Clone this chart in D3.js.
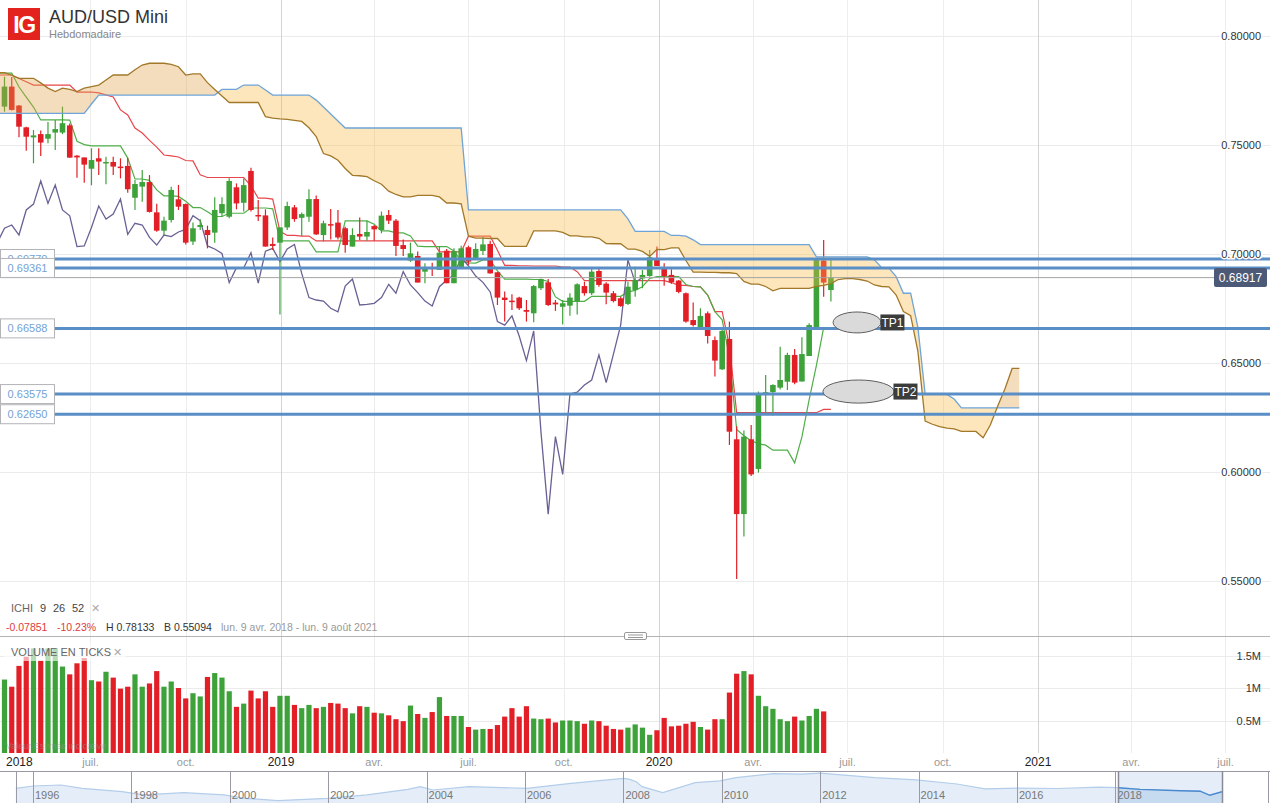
<!DOCTYPE html>
<html>
<head>
<meta charset="utf-8">
<title>AUD/USD Mini</title>
<script src="https://cdn.jsdelivr.net/npm/d3@7"></script>
<style>
  html, body { margin: 0; padding: 0; background: #fff; }
  svg { display: block; font-family: "Liberation Sans", Arial, sans-serif; }
</style>
</head>
<body>
<svg id="chart" width="1270" height="803"></svg>
<script>
// weekly candles, first week = lun. 9 avr. 2018
const firstWeek = Date.UTC(2018, 3, 9);

const opens = [
  .7676,.7768,.7681,.7581,.7535,.7550,.7529,.7557,.7557,.7590,
  .7451,.7443,.7391,.7439,.7416,.7422,.7401,.7404,.7258,.7309,
  .7330,.7191,.7107,.7156,.7251,.7229,.7057,.7124,.7110,.7098,
  .7187,.7171,.7306,.7235,.7381,.7179,.7177,.7046,.7052,.7122,
  .7214,.7166,.7171,.7252,.7087,.7137,.7144,.7118,.7034,.7092,
  .7080,.7128,.7110,.7179,.7153,.7041,.6970,.6991,.6919,.6940,
  .6927,.7015,.6866,.6934,.7031,.6980,.7014,.7046,.6916,.6800,
  .6786,.6800,.6743,.6728,.6843,.6870,.6777,.6758,.6763,.6784,
  .6853,.6820,.6922,.6864,.6820,.6797,.6771,.6835,.6888,.6899,
  .6980,.6934,.6904,.6878,.6820,.6697,.6664,.6728,.6605,.6471,
  .6610,.6150,.5807,.6150,.6014,.6358,.6366,.6387,.6414,.6537,
  .6415,.6532,.6659,.6970,.6835
];
const highs = [
  .7813,.7812,.7684,.7584,.7569,.7566,.7606,.7615,.7676,.7599,
  .7454,.7443,.7485,.7485,.7446,.7446,.7439,.7440,.7339,.7385,
  .7362,.7230,.7171,.7309,.7317,.7232,.7144,.7159,.7130,.7260,
  .7260,.7347,.7324,.7346,.7396,.7248,.7205,.7076,.7122,.7240,
  .7225,.7190,.7297,.7268,.7153,.7206,.7202,.7125,.7118,.7167,
  .7153,.7133,.7195,.7202,.7161,.7067,.7052,.7011,.6957,.6960,
  .7034,.7023,.7026,.7038,.7038,.7049,.7079,.7061,.6918,.6828,
  .6815,.6804,.6789,.6858,.6888,.6885,.6789,.6789,.6820,.6866,
  .6873,.6934,.6934,.6870,.6830,.6804,.6873,.6942,.6927,.7018,
  .7034,.6957,.6930,.6881,.6823,.6777,.6751,.6736,.6621,.6651,
  .6690,.6210,.6190,.6216,.6369,.6445,.6403,.6575,.6547,.6564,
  .6618,.6682,.6980,.7064,.6972
];
const lows = [
  .7653,.7658,.7535,.7474,.7416,.7450,.7508,.7477,.7550,.7442,
  .7350,.7327,.7315,.7362,.7320,.7362,.7347,.7281,.7202,.7240,
  .7190,.7102,.7087,.7144,.7202,.7044,.7041,.7110,.7026,.7052,
  .7171,.7164,.7205,.7195,.7195,.7151,.7034,.7018,.6723,.7110,
  .7148,.7083,.7148,.7087,.7057,.7067,.7067,.7006,.7034,.7064,
  .7061,.7061,.7095,.7138,.6991,.6991,.6964,.6869,.6866,.6899,
  .6927,.6866,.6866,.6934,.6950,.6972,.6995,.6911,.6766,.6690,
  .6743,.6743,.6690,.6687,.6835,.6761,.6739,.6677,.6717,.6723,
  .6809,.6812,.6850,.6769,.6778,.6758,.6766,.6804,.6843,.6896,
  .6945,.6854,.6863,.6820,.6685,.6667,.6664,.6590,.6438,.6468,
  .6124,.5509,.5704,.5982,.5997,.6270,.6259,.6379,.6376,.6402,
  .6415,.6532,.6652,.6804,.6782
];
const closes = [
  .7768,.7661,.7584,.7538,.7544,.7511,.7550,.7573,.7600,.7442,
  .7443,.7410,.7431,.7424,.7422,.7401,.7396,.7297,.7321,.7330,
  .7193,.7107,.7153,.7294,.7217,.7052,.7118,.7133,.7087,.7202,
  .7229,.7335,.7232,.7316,.7202,.7175,.7034,.7037,.7122,.7220,
  .7160,.7183,.7252,.7090,.7141,.7133,.7076,.7041,.7087,.7080,
  .7101,.7113,.7176,.7153,.7037,.7023,.7003,.6869,.6937,.6936,
  .7006,.6866,.7013,.7026,.6965,.7023,.7044,.6911,.6800,.6789,
  .6784,.6751,.6735,.6853,.6885,.6766,.6769,.6774,.6800,.6861,
  .6820,.6919,.6858,.6823,.6784,.6761,.6850,.6881,.6904,.6985,
  .6945,.6899,.6870,.6826,.6690,.6674,.6716,.6624,.6511,.6647,
  .6185,.5807,.6162,.5989,.6358,.6366,.6399,.6422,.6537,.6410,
  .6541,.6674,.6973,.6869,.6892
];
// volume en ticks, millions
const volumes = [
  1.13,1.02,1.34,1.48,1.61,1.42,1.61,1.61,1.33,1.21,
  1.38,1.46,1.12,1.10,1.25,1.16,0.99,1.02,1.21,1.02,
  1.07,1.26,1.02,1.10,1.00,0.84,0.92,0.87,1.17,1.23,
  1.16,0.95,0.71,0.76,0.96,0.84,0.95,0.71,0.88,0.88,
  0.74,0.69,0.74,0.69,0.71,0.77,0.76,0.69,0.61,0.72,
  0.71,0.62,0.61,0.58,0.52,0.49,0.73,0.60,0.54,0.63,
  0.86,0.57,0.57,0.57,0.40,0.36,0.37,0.37,0.43,0.56,
  0.69,0.56,0.72,0.53,0.52,0.53,0.47,0.50,0.50,0.49,
  0.45,0.50,0.49,0.42,0.37,0.36,0.39,0.44,0.39,0.28,
  0.35,0.54,0.41,0.42,0.45,0.48,0.40,0.36,0.52,0.52,
  0.93,1.22,1.26,1.21,0.88,0.72,0.68,0.52,0.49,0.56,
  0.50,0.57,0.68,0.64
];

// ichimoku lines as [week, value] breakpoints (week 0 = first candle)
const tenkanPts = [[-1,.7830],[1,.7830],[2,.7766],[3,.7720],[4,.7674],[5,.7615],[8,.7615],[9,.7614],[10,.7517],[11,.7502],[12,.7496],[16,.7496],[17,.7440],[18,.7344],[19,.7344],[20,.7338],[21,.7294],[22,.7267],[23,.7267],[24,.7264],[25,.7242],[26,.7213],[27,.7213],[28,.7194],[29,.7172],[30,.7172],[31,.7187],[33,.7187],[34,.7211],[36,.7211],[37,.7207],[38,.7060],[42,.7060],[43,.7010],[46,.7010],[47,.7152],[50,.7152],[51,.7137],[52,.7106],[53,.7106],[54,.7097],[55,.7097],[56,.7083],[57,.7036],[58,.7034],[61,.7034],[62,.7014],[63,.6967],[64,.6959],[65,.6958],[66,.6973],[67,.6973],[68,.6923],[69,.6885],[72,.6885],[73,.6883],[74,.6883],[75,.6874],[76,.6803],[77,.6783],[80,.6783],[81,.6806],[85,.6806],[86,.6826],[87,.6833],[88,.6850],[89,.6888],[90,.6896],[93,.6896],[94,.6860],[95,.6851],[96,.6849],[97,.6812],[98,.6736],[99,.6698],[100,.6527],[101,.6195],[102,.6166],[103,.6143],[104,.6130],[105,.6123],[106,.6100],[108,.6100],[109,.6042],[110,.6161],[111,.6332],[112,.6489],[113,.6662],[114,.6662]];
const kijunPts = [[-1,.7821],[1,.7821],[2,.7805],[3,.7790],[4,.7775],[9,.7775],[10,.7743],[12,.7743],[13,.7739],[14,.7730],[15,.7720],[16,.7661],[17,.7638],[18,.7578],[19,.7555],[20,.7521],[21,.7490],[22,.7454],[23,.7450],[24,.7445],[25,.7429],[26,.7427],[27,.7363],[28,.7351],[33,.7351],[34,.7313],[35,.7256],[36,.7256],[37,.7252],[38,.7104],[39,.7085],[40,.7085],[41,.7082],[42,.7082],[43,.7060],[59,.7060],[60,.7010],[63,.7010],[64,.7082],[67,.7082],[68,.7017],[69,.6948],[70,.6948],[71,.6946],[72,.6946],[73,.6945],[76,.6945],[77,.6940],[78,.6940],[79,.6919],[80,.6878],[91,.6878],[92,.6869],[93,.6856],[94,.6856],[95,.6851],[96,.6849],[97,.6812],[98,.6736],[99,.6736],[100,.6579],[101,.6272],[112,.6272],[113,.6287],[114,.6287]];
const spanAPts = [[-1,.7832],[0,.7832],[1,.7820],[2,.7806],[4,.7806],[5,.7785],[6,.7761],[7,.7745],[8,.7761],[9,.7755],[10,.7745],[11,.7761],[12,.7768],[13,.7775],[14,.7798],[15,.7821],[17,.7821],[18,.7845],[19,.7867],[20,.7875],[22,.7875],[23,.7870],[24,.7859],[25,.7821],[26,.7826],[27,.7826],[28,.7786],[29,.7755],[30,.7725],[31,.7695],[35,.7695],[36,.7630],[37,.7623],[38,.7620],[39,.7618],[40,.7613],[41,.7608],[42,.7579],[43,.7539],[44,.7461],[45,.7450],[46,.7430],[47,.7392],[48,.7361],[49,.7359],[50,.7355],[51,.7336],[52,.7320],[53,.7288],[54,.7273],[55,.7262],[56,.7262],[57,.7269],[59,.7269],[60,.7262],[61,.7234],[62,.7234],[63,.7230],[64,.7082],[65,.7073],[66,.7073],[67,.7071],[68,.7071],[69,.7035],[72,.7035],[73,.7106],[76,.7106],[77,.7099],[78,.7083],[79,.7083],[80,.7079],[81,.7079],[82,.7072],[83,.7048],[84,.7047],[85,.7047],[86,.7022],[87,.7022],[88,.7012],[89,.6989],[90,.7021],[91,.7020],[92,.7028],[93,.7028],[94,.6970],[95,.6917],[96,.6917],[97,.6916],[98,.6916],[99,.6914],[100,.6914],[101,.6910],[102,.6874],[103,.6862],[104,.6862],[105,.6851],[106,.6831],[107,.6842],[111,.6842],[112,.6852],[113,.6856],[114,.6864],[115,.6883],[116,.6887],[117,.6887],[118,.6883],[119,.6876],[120,.6858],[121,.6851],[122,.6849],[123,.6812],[124,.6736],[125,.6717],[126,.6553],[127,.6234],[128,.6219],[129,.6208],[130,.6201],[131,.6198],[132,.6186],[134,.6186],[135,.6157],[136,.6217],[137,.6302],[138,.6381],[139,.6475],[140,.6475]];
const spanBPts = [[-1,.7645],[11,.7645],[12,.7688],[13,.7729],[29,.7729],[30,.7755],[32,.7755],[33,.7775],[35,.7775],[36,.7752],[37,.7729],[42,.7729],[43,.7706],[44,.7674],[45,.7642],[46,.7610],[47,.7578],[63,.7578],[64,.7202],[85,.7202],[86,.7161],[87,.7104],[91,.7104],[92,.7085],[93,.7085],[94,.7082],[95,.7065],[96,.7043],[111,.7043],[112,.6987],[119,.6987],[120,.6973],[121,.6937],[122,.6935],[123,.6896],[124,.6820],[125,.6820],[126,.6663],[127,.6356],[130,.6356],[131,.6335],[132,.6294],[140,.6294]];
const chikouShift = 26;

// horizontal levels drawn on the chart
const levels = [0.69770, 0.69361, 0.66588, 0.63575, 0.62650];
const lastPrice = 0.68917;
const targets = [
  {label: 'TP1', week: 117.6, price: 0.6686, rw: 3.3, rp: 0.0048},
  {label: 'TP2', week: 117.8, price: 0.6369, rw: 4.9, rp: 0.0053}
];

const priceTicks = [0.55, 0.60, 0.65, 0.70, 0.75, 0.80];
const volTicks = [0.5, 1, 1.5];
const monthLabels = {3: 'avr.', 6: 'juil.', 9: 'oct.'};

// navigator (historique)
const navYears  = [1995.65,1996.0,1996.57,1997.0,1997.81,1998.24,1999.07,1999.88,2000.31,2000.98,2001.98,2002.79,2003.62,2003.87,2004.13,2004.86,2006.04,2006.93,2007.52,2008.01,2008.13,2008.26,2008.38,2008.8,2009.46,2009.96,2010.29,2011.04,2011.61,2012.0,2013.11,2013.95,2014.78,2015.35,2016.02,2016.83,2017.67,2018.03,2018.5,2019.33,2019.72,2019.92,2020.17];
const navPrices = [0.755,0.806,0.828,0.755,0.680,0.607,0.658,0.607,0.533,0.481,0.533,0.607,0.732,0.790,0.717,0.790,0.755,0.865,0.923,0.975,0.953,0.901,0.790,0.658,0.880,0.920,0.990,1.080,1.070,1.090,0.990,0.940,0.850,0.740,0.760,0.750,0.780,0.770,0.730,0.700,0.690,0.600,0.680];
const navLabelYears = [1996,1998,2000,2002,2004,2006,2008,2010,2012,2014,2016,2018];

const svg = d3.select('#chart');
const defs = svg.append('defs');

const x = d3.scaleUtc()
    .domain([new Date(Date.UTC(2019, 0, 1)), new Date(Date.UTC(2020, 0, 1))])
    .range([281, 659]);
const xw = w => x(new Date(firstWeek + w * 7 * 864e5));
const y = d3.scaleLinear().domain([0.55, 0.80]).range([581, 36]);
const yVol = d3.scaleLinear().domain([0, 1.5]).range([753, 655.5]);

const up = '#3ea23a', down = '#e21f26';

defs.append('clipPath').attr('id', 'mainClip')
    .append('rect').attr('x', 0).attr('y', 0).attr('width', 1270).attr('height', 600);

// grid
const grid = svg.append('g');
grid.selectAll('line.hp').data(priceTicks).join('line').attr('class', 'hp')
    .attr('x1', 0).attr('x2', 1270)
    .attr('y1', d => Math.round(y(d)) + 0.5).attr('y2', d => Math.round(y(d)) + 0.5)
    .attr('stroke', '#ebebeb');
grid.selectAll('line.hv').data(volTicks).join('line').attr('class', 'hv')
    .attr('x1', 0).attr('x2', 1270)
    .attr('y1', d => Math.round(yVol(d)) + 0.5).attr('y2', d => Math.round(yVol(d)) + 0.5)
    .attr('stroke', '#ebebeb');
const quarters = d3.utcMonth.every(3)
    .range(new Date(Date.UTC(2018, 0, 1)), new Date(Date.UTC(2021, 9, 1)));
grid.selectAll('line.vx').data(quarters.filter(d => x(d) > 0 && x(d) < 1270)).join('line').attr('class', 'vx')
    .attr('x1', d => Math.round(x(d)) + 0.5).attr('x2', d => Math.round(x(d)) + 0.5)
    .attr('y1', 0).attr('y2', 753)
    .attr('stroke', d => d.getUTCMonth() === 0 ? '#d3d3d3' : '#ededed');

// main pane
const main = svg.append('g').attr('clip-path', 'url(#mainClip)');
const candles = d3.range(opens.length).map(i => ({i, o: opens[i], h: highs[i], l: lows[i], c: closes[i]}));

const line = d3.line().x(d => xw(d[0])).y(d => y(d[1]));

// tenkan / kijun / chikou
const chikouPts = closes.map((c, k) => [k - chikouShift, c]).filter(d => d[0] >= -1);
main.append('path').attr('d', line(kijunPts)).attr('fill', 'none').attr('stroke', '#e8464b').attr('stroke-width', 1.2);
main.append('path').attr('d', line(tenkanPts)).attr('fill', 'none').attr('stroke', '#4fae48').attr('stroke-width', 1.2);
main.append('path').attr('d', line(chikouPts)).attr('fill', 'none').attr('stroke', '#6b6093').attr('stroke-width', 1.3);

// candles
main.append('g').selectAll('line').data(candles).join('line')
    .attr('x1', d => xw(d.i)).attr('x2', d => xw(d.i))
    .attr('y1', d => y(d.h)).attr('y2', d => y(d.l))
    .attr('stroke', d => d.c >= d.o ? up : down).attr('stroke-width', 1.2);
main.append('g').selectAll('rect').data(candles).join('rect')
    .attr('x', d => xw(d.i) - 2.8).attr('width', 5.6)
    .attr('y', d => y(Math.max(d.o, d.c)))
    .attr('height', d => Math.max(1.5, Math.abs(y(d.o) - y(d.c))))
    .attr('fill', d => d.c >= d.o ? up : down);

// cloud
const areaAbove = d3.area().x(d => xw(d[0])).y0(0).y1(d => y(d[1]));
const areaBelow = d3.area().x(d => xw(d[0])).y0(600).y1(d => y(d[1]));
defs.append('clipPath').attr('id', 'belowA').append('path').attr('d', areaBelow(spanAPts));
defs.append('clipPath').attr('id', 'aboveA').append('path').attr('d', areaAbove(spanAPts));
main.append('path').attr('d', areaAbove(spanBPts)).attr('clip-path', 'url(#belowA)')
    .attr('fill', 'rgba(225,160,70,0.36)');
main.append('path').attr('d', areaBelow(spanBPts)).attr('clip-path', 'url(#aboveA)')
    .attr('fill', 'rgba(250,185,70,0.36)');
main.append('path').attr('d', line(spanBPts)).attr('fill', 'none').attr('stroke', '#6ea4d8').attr('stroke-width', 1.3);
main.append('path').attr('d', line(spanAPts)).attr('fill', 'none').attr('stroke', '#a27829').attr('stroke-width', 1.3);

// last price line
main.append('line').attr('x1', 0).attr('x2', 1214)
    .attr('y1', y(lastPrice)).attr('y2', y(lastPrice))
    .attr('stroke', '#a3a3a3').attr('stroke-width', 1);

// level lines with their boxes
const lv = svg.append('g');
levels.forEach(v => {
  const yy = y(v);
  lv.append('line').attr('x1', 54).attr('x2', 1270).attr('y1', yy).attr('y2', yy)
    .attr('stroke', '#5a8ec6').attr('stroke-width', 3);
  lv.append('rect').attr('x', 0.5).attr('y', yy - 9.5).attr('width', 54).attr('height', 19)
    .attr('fill', '#fff').attr('stroke', '#b3b3b8');
  lv.append('text').attr('x', 27.5).attr('y', yy + 4).attr('text-anchor', 'middle')
    .attr('font-size', 11).attr('fill', '#74a2d3').text(v.toFixed(5));
});

// TP annotations
const tp = svg.append('g');
targets.forEach(t => {
  const cx = xw(t.week), cy = y(t.price);
  const rx = xw(t.week + t.rw) - cx, ry = y(t.price - t.rp) - cy;
  tp.append('ellipse').attr('cx', cx).attr('cy', cy).attr('rx', rx).attr('ry', ry)
    .attr('fill', '#dadada').attr('stroke', '#5e5e5e').attr('stroke-width', 1);
  tp.append('rect').attr('x', cx + rx - 0.5).attr('y', cy - 8).attr('width', 24).attr('height', 16)
    .attr('fill', '#3c3c3c');
  tp.append('text').attr('x', cx + rx + 11.5).attr('y', cy + 4.5).attr('text-anchor', 'middle')
    .attr('font-size', 12).attr('fill', '#fff').text(t.label);
});

// price axis labels
const axisR = svg.append('g');
axisR.selectAll('text').data(priceTicks).join('text')
    .attr('x', 1261).attr('y', d => y(d) + 4).attr('text-anchor', 'end')
    .attr('font-size', 11).attr('fill', '#333')
    .attr('stroke', '#fff').attr('stroke-width', 3).attr('paint-order', 'stroke')
    .text(d => d.toFixed(5));
axisR.append('rect').attr('x', 1214).attr('y', y(lastPrice) - 9.5).attr('width', 53).attr('height', 19)
    .attr('rx', 2).attr('fill', '#4d5a77');
axisR.append('text').attr('x', 1240.5).attr('y', y(lastPrice) + 4.5).attr('text-anchor', 'middle')
    .attr('font-size', 12).attr('fill', '#fff').text(lastPrice.toFixed(5));

// header
const head = svg.append('g');
head.append('rect').attr('x', 8).attr('y', 8).attr('width', 32).attr('height', 32).attr('fill', '#e3231d');
head.append('text').attr('x', 24).attr('y', 32.5).attr('text-anchor', 'middle')
    .attr('font-size', 23).attr('font-weight', 'bold').attr('letter-spacing', -1.5)
    .attr('fill', '#fff').text('IG');
head.append('text').attr('x', 49).attr('y', 23).attr('font-size', 18).attr('fill', '#333').text('AUD/USD Mini');
head.append('text').attr('x', 49).attr('y', 38).attr('font-size', 11).attr('fill', '#888').text('Hebdomadaire');

// indicator rows
const info = svg.append('g').attr('font-size', 11);
info.append('text').attr('x', 11).attr('y', 612).attr('fill', '#666').text('ICHI');
info.append('text').attr('x', 40).attr('y', 612).attr('fill', '#444').text('9');
info.append('text').attr('x', 53).attr('y', 612).attr('fill', '#444').text('26');
info.append('text').attr('x', 72).attr('y', 612).attr('fill', '#444').text('52');
info.append('text').attr('x', 91).attr('y', 612).attr('fill', '#aaa').attr('font-family', 'DejaVu Sans').attr('font-size', 11).text('\u2715');
info.append('text').attr('x', 6).attr('y', 631).attr('font-size', 10.5).attr('fill', '#e03a3a').text('-0.07851');
info.append('text').attr('x', 57).attr('y', 631).attr('font-size', 10.5).attr('fill', '#e03a3a').text('-10.23%');
info.append('text').attr('x', 106).attr('y', 631).attr('font-size', 10.5).attr('fill', '#333').text('H 0.78133');
info.append('text').attr('x', 164).attr('y', 631).attr('font-size', 10.5).attr('fill', '#333').text('B 0.55094');
info.append('text').attr('x', 221).attr('y', 631).attr('font-size', 10.5).attr('fill', '#999').text('lun. 9 avr. 2018 - lun. 9 ao\u00fbt 2021');

// pane separator
svg.append('line').attr('x1', 0).attr('x2', 1270).attr('y1', 636.5).attr('y2', 636.5).attr('stroke', '#b4b4b4');
svg.append('rect').attr('x', 624.5).attr('y', 632.5).attr('width', 22).attr('height', 7).attr('rx', 1.5)
    .attr('fill', '#fff').attr('stroke', '#999');
svg.append('line').attr('x1', 628).attr('x2', 643).attr('y1', 635).attr('y2', 635).attr('stroke', '#999');
svg.append('line').attr('x1', 628).attr('x2', 643).attr('y1', 637.5).attr('y2', 637.5).attr('stroke', '#999');

// volume
const vol = svg.append('g');
vol.selectAll('rect').data(volumes).join('rect')
    .attr('x', (d, i) => xw(i) - 2.6).attr('width', 5.2)
    .attr('y', d => yVol(d)).attr('height', d => yVol(0) - yVol(d))
    .attr('fill', (d, i) => closes[i] >= opens[i] ? up : down);
vol.append('rect').attr('x', 4).attr('y', 643).attr('width', 122).attr('height', 18)
    .attr('fill', '#fff').attr('opacity', 0.62);
vol.append('text').attr('x', 11).attr('y', 656).attr('font-size', 11).attr('fill', '#666').text('VOLUME EN TICKS');
vol.append('text').attr('x', 113).attr('y', 656).attr('fill', '#aaa').attr('font-family', 'DejaVu Sans').attr('font-size', 11).text('\u2715');
vol.append('text').attr('x', 6).attr('y', 749).attr('font-size', 9).attr('fill', 'rgba(150,150,150,0.55)').text('Valeur Estimée indicative');
vol.selectAll('text.vt').data(volTicks).join('text').attr('class', 'vt')
    .attr('x', 1261).attr('y', d => yVol(d) + 4).attr('text-anchor', 'end')
    .attr('font-size', 11).attr('fill', '#333')
    .text(d => d + 'M');

// time axis labels (the year of the first, off-screen, quarter sticks to the left edge)
const tAxis = svg.append('g');
const tickDates = quarters.filter(d => (x(d) >= 0 && x(d) < 1260) || +d === Date.UTC(2018, 0, 1));
tAxis.selectAll('text').data(tickDates).join('text')
    .attr('x', d => x(d) < 0 ? 6 : x(d))
    .attr('y', 766)
    .attr('text-anchor', d => x(d) < 0 ? 'start' : 'middle')
    .attr('font-size', d => d.getUTCMonth() === 0 ? 12 : 11)
    .attr('fill', d => d.getUTCMonth() === 0 ? '#222' : '#999')
    .text(d => d.getUTCMonth() === 0 ? d.getUTCFullYear() : monthLabels[d.getUTCMonth()]);

// navigator
const nav = svg.append('g');
const navX = d3.scaleLinear().domain([1996, 2018]).range([33, 1115.4]);
const navY = d3.scaleLinear().domain([0.48, 1.10]).range([800.7, 772.7]);
const navPts = navYears.map((yr, k) => [yr, navPrices[k]]);
const navArea = d3.area().x(d => navX(d[0])).y0(803).y1(d => navY(d[1]));
const navLine = d3.line().x(d => navX(d[0])).y(d => navY(d[1]));
const selX0 = 1118, selX1 = 1222;
defs.append('clipPath').attr('id', 'navSel').append('rect')
    .attr('x', selX0).attr('y', 771).attr('width', selX1 - selX0).attr('height', 32);
nav.append('path').attr('d', navArea(navPts)).attr('fill', '#e5eef8');
nav.append('path').attr('d', navLine(navPts)).attr('fill', 'none').attr('stroke', '#b3cdea').attr('stroke-width', 1.2);
nav.append('rect').attr('x', selX0).attr('y', 771).attr('width', selX1 - selX0).attr('height', 32)
    .attr('fill', 'rgba(110,160,215,0.18)');
nav.append('path').attr('d', navArea(navPts)).attr('clip-path', 'url(#navSel)').attr('fill', '#c6daf0');
nav.append('path').attr('d', navLine(navPts)).attr('clip-path', 'url(#navSel)')
    .attr('fill', 'none').attr('stroke', '#4a89cf').attr('stroke-width', 1.4);
nav.selectAll('line.sep').data(navLabelYears).join('line').attr('class', 'sep')
    .attr('x1', d => Math.round(navX(d)) + 0.5).attr('x2', d => Math.round(navX(d)) + 0.5)
    .attr('y1', 771).attr('y2', 803).attr('stroke', '#9a9aa6');
nav.selectAll('text').data(navLabelYears).join('text')
    .attr('x', d => navX(d) + 2).attr('y', 799)
    .attr('font-size', 11).attr('fill', '#777').text(d => d);
nav.append('line').attr('x1', 0).attr('x2', 1270).attr('y1', 771.5).attr('y2', 771.5).attr('stroke', '#9a9aa6');
nav.append('line').attr('x1', 16.5).attr('x2', 16.5).attr('y1', 771).attr('y2', 803).attr('stroke', '#9a9aa6');
nav.append('line').attr('x1', 1268.5).attr('x2', 1268.5).attr('y1', 771).attr('y2', 803).attr('stroke', '#9a9aa6');
[selX0, selX1].forEach(sx => {
  nav.append('line').attr('x1', sx + 0.5).attr('x2', sx + 0.5).attr('y1', 771).attr('y2', 803)
    .attr('stroke', '#8a8a96').attr('stroke-width', 1.5);
});
</script>
</body>
</html>
